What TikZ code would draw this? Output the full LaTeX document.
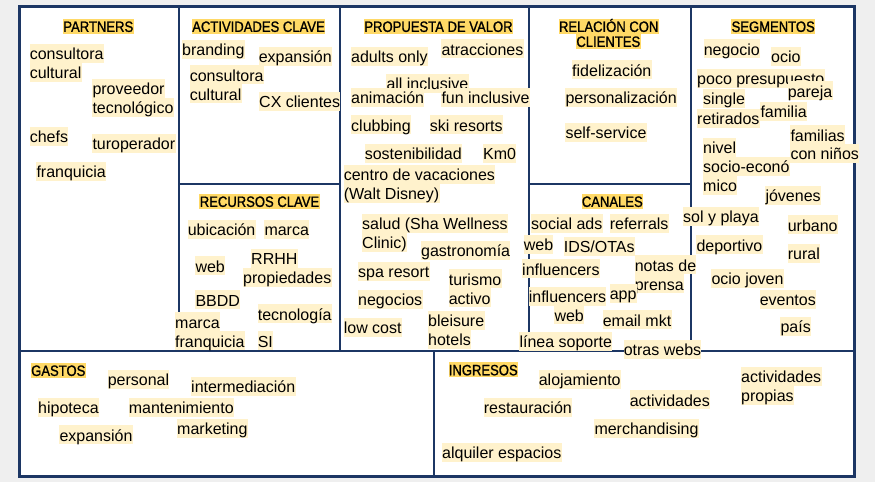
\documentclass[tikz,border=0pt]{standalone}
\usepackage{fontspec}
\setmainfont{Liberation Sans}
\newfontfamily\hdrfont[FakeStretch=0.87,FakeBold=1.2]{Liberation Sans}
\definecolor{navy}{HTML}{1C3664}
\definecolor{hdryellow}{HTML}{FFD966}
\definecolor{itemyellow}{HTML}{FFF2CC}
\definecolor{bggray}{HTML}{EFEFEF}
\tikzset{
  item/.style={anchor=north west, fill=itemyellow, inner xsep=0.3pt, inner ysep=0pt,
    text height=16pt, text depth=3pt, font=\fontsize{16}{19}\selectfont},
  hdr/.style={anchor=north, fill=hdryellow, inner xsep=0.3pt, inner ysep=0pt,
    text height=13.4pt, text depth=1.6pt, font=\hdrfont\fontsize{15}{15}\selectfont},
  frame/.style={draw=navy, line width=3pt, fill=white},
  divider/.style={draw=navy, line width=2pt},
}
\begin{document}
\begin{tikzpicture}[x=1pt,y=-1pt]
\useasboundingbox (0,0) rectangle (875,482);
\fill[bggray] (0,0) rectangle (875,482);
% canvas
\path[frame] (19.5,6.5) rectangle (854,476);
% dividers
\coordinate (tA) at (178.5,6.5); \coordinate (bA) at (178.5,350.7);
\coordinate (tB) at (340,6.5);   \coordinate (bB) at (340,350.7);
\coordinate (tC) at (529,6.5);   \coordinate (bC) at (529,350.7);
\coordinate (tD) at (690.7,6.5); \coordinate (bD) at (690.7,350.7);
\coordinate (hL) at (19.5,350.7); \coordinate (hR) at (854,350.7);
\coordinate (mA) at (178.5,184.3); \coordinate (mB) at (340,184.3);
\coordinate (mC) at (529,184.3); \coordinate (mD) at (690.7,184.3);
\coordinate (gT) at (433.5,350.7); \coordinate (gB) at (433.5,476);
\draw[divider] (tA) -- (bA) (tB) -- (bB) (tC) -- (bC) (tD) -- (bD);
\draw[divider] (hL) -- (hR) (mA) -- (mB) (mC) -- (mD) (gT) -- (gB);

% PARTNERS
\node[hdr] (hP) at (98.3,18.3) {PARTNERS};
\node[item] (p1a) at (29.3,43.3) {consultora};
\node[item] (p1b) at (29.3,62.5) {cultural};
\node[item] (p2a) at (92,78.3) {proveedor};
\node[item] (p2b) at (92,97.5) {tecnológico};
\node[item] (p3) at (29.3,126.7) {chefs};
\node[item] (p4) at (92,133.3) {turoperador};
\node[item] (p5) at (36,161.7) {franquicia};

% ACTIVIDADES CLAVE
\node[hdr] (hA) at (258.5,18.3) {ACTIVIDADES CLAVE};
\node[item] (a1) at (181.7,39.3) {branding};
\node[item] (a2) at (258.3,46.7) {expansión};
\node[item] (a3a) at (189.3,65) {consultora};
\node[item] (a3b) at (189.3,84) {cultural};
\node[item] (a4) at (258.7,91.7) {CX clientes};

% RECURSOS CLAVE
\node[hdr] (hR) at (259.5,193.3) {RECURSOS CLAVE};
\node[item] (r1) at (187.3,219.3) {ubicación};
\node[item] (r2) at (264,219.3) {marca};
\node[item] (r3) at (195,256) {web};
\node[item] (r4) at (250.7,248.3) {RRHH};
\node[item] (r5) at (242.7,267.3) {propiedades};
\node[item] (r6) at (195,290) {BBDD};
\node[item] (r7) at (257.3,304) {tecnología};
\node[item] (r8a) at (174.7,312) {marca};
\node[item] (r8b) at (174.7,331) {franquicia};
\node[item] (r9) at (257.3,331) {SI};

% PROPUESTA DE VALOR
\node[hdr] (hV) at (438.5,18.3) {PROPUESTA DE VALOR};
\node[item] (v1) at (350.7,46.7) {adults only};
\node[item] (v2) at (441,39) {atracciones};
\node[item] (v3) at (386,73.3) {all inclusive};
\node[item] (v4) at (350.7,87.3) {animación};
\node[item] (v5) at (441,87.3) {fun inclusive};
\node[item] (v6) at (350.7,115) {clubbing};
\node[item] (v7) at (429.3,115) {ski resorts};
\node[item] (v8) at (364.3,143.3) {sostenibilidad};
\node[item] (v9) at (482.7,143.3) {Km0};
\node[item] (v10a) at (343.3,164.3) {centro de vacaciones};
\node[item] (v10b) at (343.3,183.3) {(Walt Disney)};
\node[item] (v11a) at (361.7,213.3) {salud (Sha Wellness};
\node[item] (v11b) at (361.7,232.3) {Clinic)};
\node[item] (v12) at (420.7,240.7) {gastronomía};
\node[item] (v13) at (357.7,261.7) {spa resort};
\node[item] (v14a) at (448.3,269) {turismo};
\node[item] (v14b) at (448.3,288) {activo};
\node[item] (v15) at (357.7,289.3) {negocios};
\node[item] (v16) at (343.3,317.3) {low cost};
\node[item] (v17a) at (427.7,310.7) {bleisure};
\node[item] (v17b) at (427.7,329.7) {hotels};

% RELACION CON CLIENTES
\node[hdr] (hC1) at (608.7,18.3) {RELACIÓN CON};
\node[hdr] (hC2) at (608.3,33.3) {CLIENTES};
\node[item] (c1) at (571.7,60) {fidelización};
\node[item] (c2) at (565,87.3) {personalización};
\node[item] (c3) at (565,122.7) {self-service};

% CANALES
\node[hdr] (hK) at (612.3,193.3) {CANALES};
\node[item] (ch1) at (530.7,213.3) {social ads};
\node[item] (ch2) at (609.3,213.3) {referrals};
\node[item] (ch3) at (523.3,234.3) {web};
\node[item] (ch4) at (563.3,236.7) {IDS/OTAs};
\node[item] (ch5) at (521.7,259) {influencers};
\node[item] (ch6a) at (634.3,255) {notas de};
\node[item] (ch6b) at (634.3,274) {prensa};
\node[item] (ch7a) at (528.3,286.7) {influencers};
\node[item] (ch7b) at (554,305) {web};
\node[item] (ch8) at (609.3,283.3) {app};
\node[item] (ch9) at (602.3,310) {email mkt};
\node[item] (ch10) at (519,331.7) {línea soporte};
\node[item] (ch11) at (623.3,339.3) {otras webs};

% SEGMENTOS
\node[hdr] (hS) at (773.2,18.3) {SEGMENTOS};
\node[item] (s1) at (703.3,39) {negocio};
\node[item] (s2) at (770.7,46.7) {ocio};
\node[item] (s3) at (696.7,68.3) {poco presupuesto};
\node[item] (s4) at (787.3,81) {pareja};
\node[item] (s5) at (702.7,88.3) {single};
\node[item] (s6) at (696.7,108.3) {retirados};
\node[item] (s7) at (760,101.7) {familia};
\node[item] (s8a) at (790,125) {familias};
\node[item] (s8b) at (790,143.7) {con niños};
\node[item] (s9a) at (702.7,137.3) {nivel};
\node[item] (s9b) at (702.7,156.3) {socio-econó};
\node[item] (s9c) at (702.7,175.3) {mico};
\node[item] (s10) at (765,185.5) {jóvenes};
\node[item] (s11) at (682.7,206.7) {sol y playa};
\node[item] (s12) at (787.3,215) {urbano};
\node[item] (s13) at (696,235) {deportivo};
\node[item] (s14) at (787.3,243.3) {rural};
\node[item] (s15) at (711,268.3) {ocio joven};
\node[item] (s16) at (759.3,289.3) {eventos};
\node[item] (s17) at (780,316.7) {país};

% GASTOS
\node[hdr, anchor=north west] (hG) at (30.7,362.3) {GASTOS};
\node[item] (g1) at (107.3,369.3) {personal};
\node[item] (g2) at (190.7,376.7) {intermediación};
\node[item] (g3) at (37.7,397.3) {hipoteca};
\node[item] (g4) at (128.3,397.3) {mantenimiento};
\node[item] (g5) at (176.7,418.3) {marketing};
\node[item] (g6) at (59,425) {expansión};

% INGRESOS
\node[hdr, anchor=north west] (hI) at (448.3,361.7) {INGRESOS};
\node[item] (i1) at (538.3,369.3) {alojamiento};
\node[item] (i2) at (483.3,397.3) {restauración};
\node[item] (i3) at (629.3,390) {actividades};
\node[item] (i4a) at (740.7,366.7) {actividades};
\node[item] (i4b) at (740.7,385.5) {propias};
\node[item] (i5) at (594,418.3) {merchandising};
\node[item] (i6) at (441.7,442.3) {alquiler espacios};
\end{tikzpicture}
\end{document}
